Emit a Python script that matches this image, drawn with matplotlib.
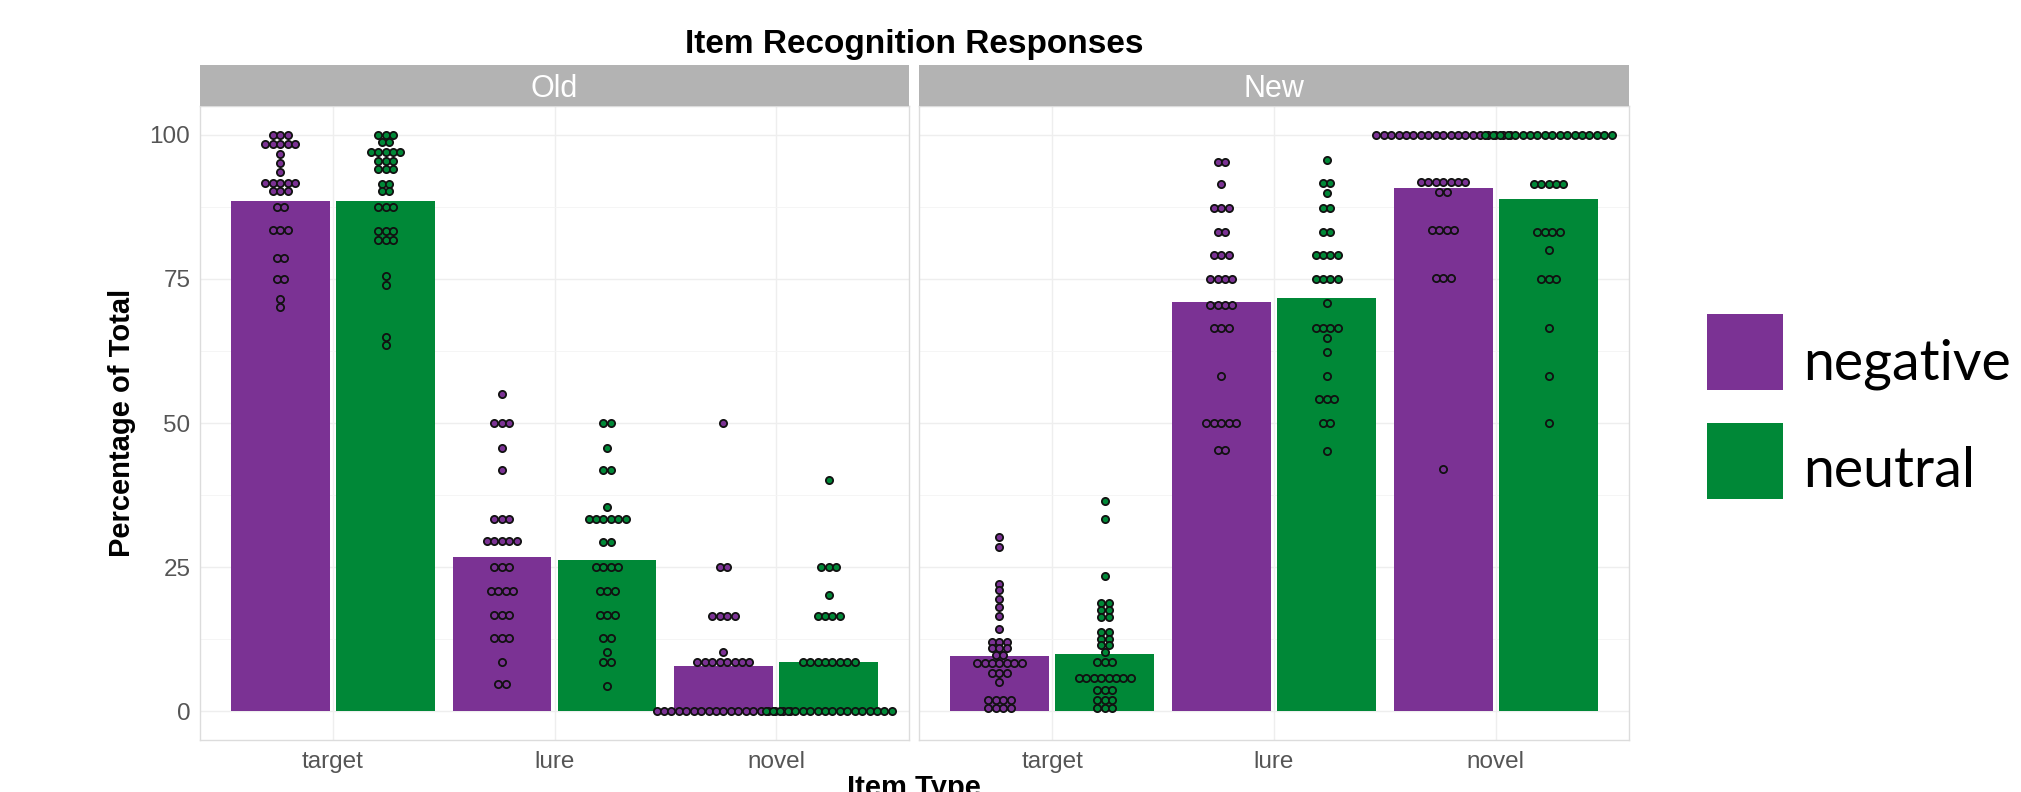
import numpy as np
import matplotlib.pyplot as plt
from matplotlib.patches import Rectangle

# categories / groups
panels = ['Old', 'New']
item_types = ['target', 'lure', 'novel']
conditions = ['negative', 'neutral']

# bar heights (mean % per item type)
bar_old_neg = [88.6, 26.8, 7.9]
bar_old_neu = [88.6, 26.3, 8.6]
bar_new_neg = [9.5, 71.0, 90.8]
bar_new_neu = [10.0, 71.7, 88.9]

# dot rows: (value, number of dots in the row)
old_target_neg = [(100, 3), (98.4, 5), (96.7, 1), (95.1, 1), (93.5, 1), (91.7, 5), (90.3, 3),
                  (87.4, 2), (83.4, 3), (78.6, 2), (75.0, 2), (71.5, 1), (70.1, 1)]
old_target_neu = [(100, 3), (98.8, 2), (97.0, 5), (95.5, 3), (94.0, 3), (91.5, 2), (90.2, 2),
                  (87.5, 3), (83.3, 3), (81.7, 3), (75.5, 1), (74.0, 1), (65.0, 1), (63.5, 1)]
old_lure_neg = [(55.1, 1), (50.0, 3), (45.7, 1), (41.9, 1), (33.3, 3), (29.5, 5), (25.0, 3),
                (20.9, 4), (16.7, 3), (12.7, 3), (8.5, 1), (4.7, 2)]
old_lure_neu = [(50.0, 2), (45.7, 1), (41.8, 2), (35.4, 1), (33.3, 6), (29.3, 2), (25.0, 4),
                (20.9, 3), (16.7, 3), (12.7, 2), (10.3, 1), (8.5, 2), (4.3, 1)]
old_novel_neg = [(50.0, 1), (25.0, 2), (16.6, 4), (10.3, 1), (8.6, 8), (0, 19)]
old_novel_neu = [(40.1, 1), (25.0, 3), (20.1, 1), (16.6, 4), (8.6, 8), (0, 18)]
new_target_neg = [(30.2, 1), (28.4, 1), (22.1, 1), (21.0, 1), (19.5, 1), (18.1, 1), (16.6, 1),
                  (14.3, 1), (12.0, 3), (10.9, 3), (9.7, 2), (8.3, 7), (6.6, 3), (5.1, 1),
                  (2.0, 4), (0.5, 4)]
new_target_neu = [(36.5, 1), (33.3, 1), (23.5, 1), (18.7, 2), (17.5, 2), (16.4, 2), (13.8, 2),
                  (12.6, 2), (11.5, 2), (10.3, 1), (8.6, 3), (5.7, 8), (3.7, 3), (2.0, 3), (0.5, 3)]
new_lure_neg = [(95.2, 2), (91.5, 1), (87.3, 3), (83.2, 2), (79.1, 3), (74.9, 4), (70.5, 4),
                (66.4, 3), (58.2, 1), (50.0, 5), (45.4, 2)]
new_lure_neu = [(95.6, 1), (91.6, 2), (89.9, 1), (87.3, 2), (83.2, 2), (79.1, 4), (74.9, 4),
                (70.8, 1), (66.4, 4), (64.7, 1), (62.4, 1), (58.2, 1), (54.2, 3), (50.0, 2), (45.1, 1)]
new_novel_neg = [(100, 19), (91.8, 7), (90.0, 2), (83.4, 4), (75.1, 3), (42.0, 1)]
new_novel_neu = [(100, 18), (91.5, 5), (83.1, 4), (80.0, 1), (74.9, 3), (66.4, 1), (58.2, 1), (50.0, 1)]

col_neg = '#7B3294'
col_neu = '#008837'

W, H = 2021, 792
fig = plt.figure(figsize=(W / 100, H / 100), dpi=100)
plt.rcParams['font.family'] = ['Liberation Sans', 'DejaVu Sans']


def px_axes(x0, y0, x1, y1):
    return fig.add_axes([x0 / W, 1 - y1 / H, (x1 - x0) / W, (y1 - y0) / H])


def draw_dots(ax, rows, xc, color):
    dot_w = 0.0335
    for v, n in rows:
        xs = xc + (np.arange(n) - (n - 1) / 2) * dot_w
        ax.scatter(xs, [v] * n, s=27, facecolor=color, edgecolor='#111111',
                   linewidth=1.3, zorder=4)


panel_px = [(200, 909), (919, 1629)]
bars = [(bar_old_neg, bar_old_neu), (bar_new_neg, bar_new_neu)]
dots = [((old_target_neg, old_lure_neg, old_novel_neg), (old_target_neu, old_lure_neu, old_novel_neu)),
        ((new_target_neg, new_lure_neg, new_novel_neg), (new_target_neu, new_lure_neu, new_novel_neu))]

off = 0.2375
bw = 0.445
x = np.arange(1, len(item_types) + 1)

for p, (x0, x1) in enumerate(panel_px):
    ax = px_axes(x0, 106, x1, 740)
    ax.set_xlim(0.4, 3.6)
    ax.set_ylim(-5, 105)
    ax.set_yticks([0, 25, 50, 75, 100])
    ax.set_yticks([12.5, 37.5, 62.5, 87.5], minor=True)
    ax.set_xticks(x)
    ax.set_xticklabels(item_types)
    ax.grid(which='major', color='#eeeeee', linewidth=1.0, zorder=0)
    ax.grid(which='minor', axis='y', color='#f4f4f4', linewidth=0.6, zorder=0)
    ax.set_axisbelow(True)
    for s in ax.spines.values():
        s.set_color('#dcdcdc')
        s.set_linewidth(1.0)
    ax.tick_params(which='both', length=0, labelsize=17.5, labelcolor='#555555')
    ax.tick_params(axis='x', pad=8)
    ax.tick_params(axis='y', pad=7)
    if p == 1:
        ax.set_yticklabels([])

    neg, neu = bars[p]
    ax.bar(x - off, neg, width=bw, color=col_neg, zorder=2)
    ax.bar(x + off, neu, width=bw, color=col_neu, zorder=2)
    for i in range(len(item_types)):
        draw_dots(ax, dots[p][0][i], x[i] - off, col_neg)
    for i in range(len(item_types)):
        draw_dots(ax, dots[p][1][i], x[i] + off, col_neu)

    # facet strip
    sax = px_axes(x0, 65, x1, 106)
    sax.set_facecolor('#b3b3b3')
    sax.set_xticks([])
    sax.set_yticks([])
    for s in sax.spines.values():
        s.set_visible(False)
    sax.text(0.5, 0.42, panels[p], color='white', fontsize=22, ha='center', va='center',
             transform=sax.transAxes)

fig.text(914 / W, 1 - 44 / H, 'Item Recognition Responses', fontsize=24, fontweight='bold',
         ha='center', va='center')
fig.text(122 / W, 1 - 423 / H, 'Percentage of Total', fontsize=21, fontweight='bold',
         rotation=90, ha='center', va='center')
fig.text(914 / W, 1 - 796 / H, 'Item Type', fontsize=21, fontweight='bold',
         ha='center', va='baseline')

# legend
for (y0, col, lab, base) in [(314, col_neg, 'negative', 380), (423, col_neu, 'neutral', 487)]:
    fig.add_artist(Rectangle((1707 / W, 1 - (y0 + 76) / H), 76 / W, 76 / H,
                             transform=fig.transFigure, facecolor=col, edgecolor='none'))
    fig.text(1803 / W, 1 - base / H, lab, fontsize=40, family='Lato', ha='left', va='baseline')

fig.savefig('out.png', dpi=100)
